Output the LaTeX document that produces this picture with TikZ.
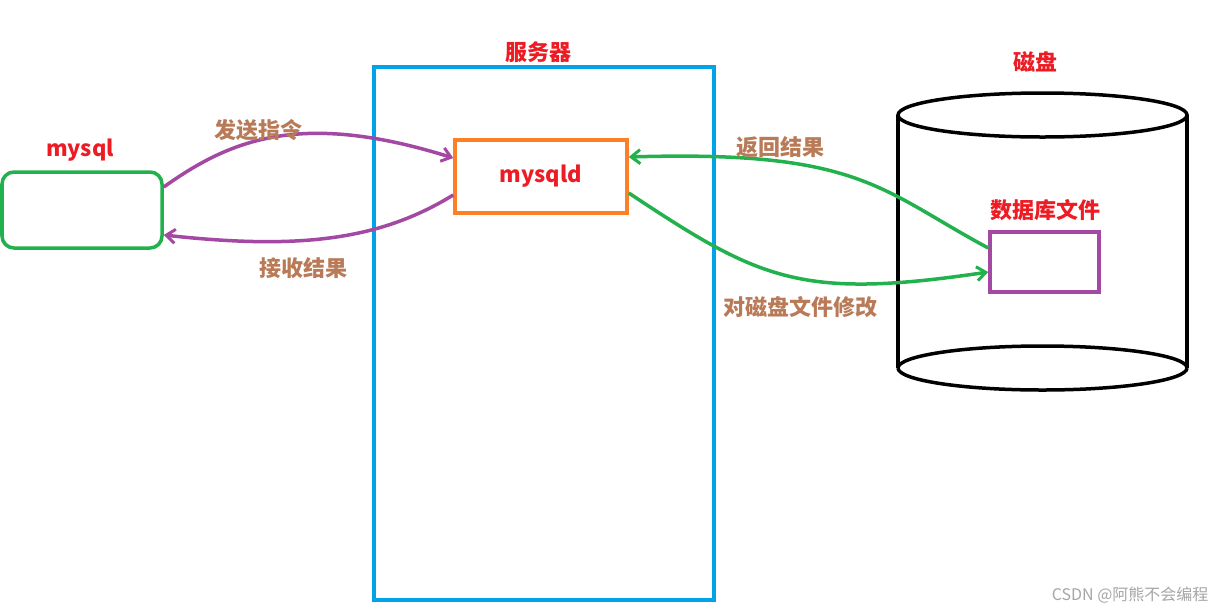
\documentclass[tikz,border=0pt]{standalone}
\usepackage{fontspec}
\setmainfont{Noto Sans CJK SC}
\usetikzlibrary{arrows.meta}
\definecolor{cgreen}{RGB}{34,177,76}
\definecolor{cblue}{RGB}{0,162,232}
\definecolor{corange}{RGB}{255,127,39}
\definecolor{cpurple}{RGB}{163,73,164}
\definecolor{cred}{RGB}{237,28,36}
\definecolor{cbrown}{RGB}{185,122,87}
\tikzset{
  lbl/.style={text=cred,font=\bfseries\fontsize{22}{26}\selectfont},
  elbl/.style={text=cbrown,font=\bfseries\fontsize{22}{26}\selectfont},
  arr/.style={line width=3.5pt,-{Straight Barb[length=9pt,width=14pt,line width=3pt]}},
}
\begin{document}
\begin{tikzpicture}[x=1pt,y=-1pt]
\useasboundingbox[fill=white] (0,0) rectangle (1221,614);
\node[draw=cgreen,line width=3.5pt,rounded corners=12pt,minimum width=160pt,minimum height=76pt] (client) at (82,210) {};
\node[lbl] (clientl) at (80,150) {mysql};
\node[draw=cblue,line width=3.5pt,minimum width=340pt,minimum height=533pt] (server) at (544,333.5) {};
\node[lbl] (serverl) at (538,52) {服务器};
\node[draw=corange,line width=3.5pt,minimum width=172pt,minimum height=73pt,lbl] (mysqld) at (541,176.5) {mysqld};
% cylinder
\draw[line width=3.5pt] (898,115) -- (898,368) (1187,115) -- (1187,368);
\draw[line width=3.5pt] (1042.5,115) ellipse[x radius=144.5, y radius=22];
\draw[line width=3.5pt] (898,368) arc[start angle=180,end angle=360,x radius=144.5,y radius=22];
\draw[line width=3.5pt] (898,368) arc[start angle=180,end angle=0,x radius=144.5,y radius=22];
\node[lbl] (diskl) at (1035,62) {磁盘};
\node[draw=cpurple,line width=3.5pt,minimum width=109pt,minimum height=60pt] (file) at (1044.5,262) {};
\node[lbl] (filel) at (1045,210) {数据库文件};
% arrows
\draw[arr,cpurple] (client.east|-0,187) .. controls (230,140) and (300,110) .. (mysqld.west|-0,158);
\node[elbl] at (258,130) {发送指令};
\draw[arr,cpurple] (mysqld.west|-0,195) .. controls (380,240) and (300,250) .. (client.east|-0,235);
\node[elbl] at (303,268) {接收结果};
\draw[arr,cgreen] (file.west|-0,248) .. controls (880,190) and (860,150) .. (mysqld.east|-0,157);
\node[elbl] at (780,147) {返回结果};
\draw[arr,cgreen] (mysqld.east|-0,193) .. controls (760,280) and (800,300) .. (file.west|-0,272);
\node[elbl] at (800,307) {对磁盘文件修改};
\node[text=gray!70,font=\fontsize{16}{18}\selectfont,anchor=east] (wm) at (1212,595) {CSDN @阿熊不会编程};
\end{tikzpicture}
\end{document}
